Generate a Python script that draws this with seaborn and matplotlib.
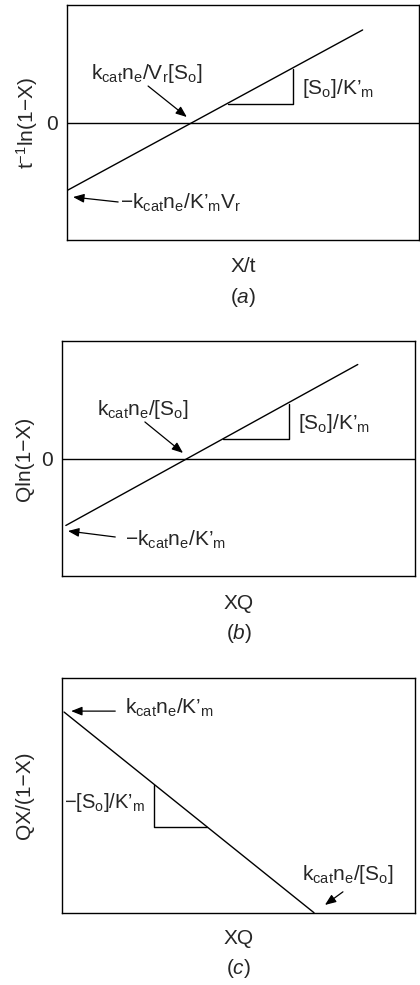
import matplotlib
matplotlib.use("Agg")
import matplotlib.pyplot as plt
import seaborn as sns
import pandas as pd

# Line data for each panel (data units: x 0..10, y -1..1 for a/b, 0..10 for c)
a_x = [0.0, 8.4]
a_y = [-0.58, 0.79]
a_tri_x = [4.58, 6.42, 6.42]
a_tri_y = [0.16, 0.16, 0.46]

b_x = [0.1, 8.37]
b_y = [-0.57, 0.80]
b_tri_x = [4.55, 6.42, 6.42]
b_tri_y = [0.166, 0.166, 0.464]

c_x = [0.05, 7.13]
c_y = [8.56, 0.0]
c_tri_x = [2.60, 2.60, 4.10]
c_tri_y = [5.45, 3.66, 3.66]

ylabels = [r"t$^{-1}$ln(1−X)", "Qln(1−X)", "QX/(1−X)"]
xlabels = ["X/t", "XQ", "XQ"]
captions = [r"($\mathit{a}$)", r"($\mathit{b}$)", r"($\mathit{c}$)"]

sns.set_theme(style="white")
plt.rcParams["font.family"] = ["Liberation Sans", "DejaVu Sans"]
plt.rcParams["mathtext.fontset"] = "custom"
plt.rcParams["mathtext.rm"] = "Liberation Sans"
plt.rcParams["mathtext.it"] = "Liberation Sans:italic"
plt.rcParams["mathtext.default"] = "rm"

FS = 15
W, H = 420, 985
fig = plt.figure(figsize=(W / 100, H / 100), dpi=100)


def px_axes(left, right, top, bottom):
    return fig.add_axes([left / W, 1 - bottom / H, (right - left) / W, (bottom - top) / H])


ax_a = px_axes(66.7, 419, 5.3, 240)
ax_b = px_axes(62.3, 415.3, 341, 576)
ax_c = px_axes(62.3, 415.3, 678.3, 912.7)

arrow = dict(arrowstyle="-|>,head_length=0.55,head_width=0.22", lw=0.9,
             color="black", shrinkA=0, shrinkB=0)


def base(ax, xs, ys, tx, ty, ylim, zero):
    sns.lineplot(data=pd.DataFrame({"x": xs, "y": ys}), x="x", y="y", ax=ax,
                 color="black", lw=1.0, sort=False, estimator=None)
    sns.lineplot(data=pd.DataFrame({"x": tx, "y": ty}), x="x", y="y", ax=ax,
                 color="black", lw=1.0, sort=False, estimator=None)
    if zero:
        ax.axhline(0, color="black", lw=1.0)
        ax.set_yticks([0])
        ax.set_yticklabels(["0"], fontsize=FS)
    else:
        ax.set_yticks([])
    ax.set_xticks([])
    ax.tick_params(axis="y", length=0, pad=6.5)
    ax.set_xlim(0, 10)
    ax.set_ylim(*ylim)
    for s in ax.spines.values():
        s.set_visible(True)
        s.set_color("black")
        s.set_linewidth(1.0)


for ax, xs, ys, tx, ty, ylim, zero in [
    (ax_a, a_x, a_y, a_tri_x, a_tri_y, (-1, 1), True),
    (ax_b, b_x, b_y, b_tri_x, b_tri_y, (-1, 1), True),
    (ax_c, c_x, c_y, c_tri_x, c_tri_y, (0, 10), False),
]:
    base(ax, xs, ys, tx, ty, ylim, zero)

# axis labels and captions
for ax, yl, xl, cap, ylx, xly, capy in [
    (ax_a, ylabels[0], xlabels[0], captions[0], -0.113, -0.115, -0.247),
    (ax_b, ylabels[1], xlabels[1], captions[1], -0.106, -0.115, -0.243),
    (ax_c, ylabels[2], xlabels[2], captions[2], -0.108, -0.108, -0.236),
]:
    ax.set_ylabel(yl, fontsize=FS, va="center")
    ax.yaxis.set_label_coords(ylx, 0.5)
    ax.set_xlabel(xl, fontsize=FS, va="center")
    ax.xaxis.set_label_coords(0.5, xly)
    ax.text(0.5, capy, cap, transform=ax.transAxes, ha="center", va="center",
            fontsize=FS)

# panel a annotations
ax_a.text(2.28, 0.42, r"$\mathrm{k_{cat}n_e/V_r[S_o]}$", ha="center", va="center", fontsize=FS)
ax_a.annotate("", xy=(3.41, 0.048), xytext=(2.31, 0.312), arrowprops=arrow)
ax_a.text(6.68, 0.295, r"$\mathrm{[S_o]/K’_m}$", ha="left", va="center", fontsize=FS)
ax_a.text(1.51, -0.685, r"$\mathrm{-k_{cat}n_e/K’_mV_r}$", ha="left", va="center", fontsize=FS)
ax_a.annotate("", xy=(0.18, -0.634), xytext=(1.46, -0.676), arrowprops=arrow)

# panel b annotations
ax_b.text(2.27, 0.413, r"$\mathrm{k_{cat}n_e/[S_o]}$", ha="center", va="center", fontsize=FS)
ax_b.annotate("", xy=(3.42, 0.047), xytext=(2.34, 0.311), arrowprops=arrow)
ax_b.text(6.68, 0.294, r"$\mathrm{[S_o]/K’_m}$", ha="left", va="center", fontsize=FS)
ax_b.text(1.78, -0.694, r"$\mathrm{-k_{cat}n_e/K’_m}$", ha="left", va="center", fontsize=FS)
ax_b.annotate("", xy=(0.16, -0.617), xytext=(1.50, -0.668), arrowprops=arrow)

# panel c annotations
ax_c.text(1.78, 8.73, r"$\mathrm{k_{cat}n_e/K’_m}$", ha="left", va="center", fontsize=FS)
ax_c.annotate("", xy=(0.25, 8.60), xytext=(1.50, 8.60), arrowprops=arrow)
ax_c.text(0.05, 4.72, r"$\mathrm{-[S_o]/K’_m}$", ha="left", va="center", fontsize=FS - 0.5)
ax_c.text(8.08, 1.61, r"$\mathrm{k_{cat}n_e/[S_o]}$", ha="center", va="center", fontsize=FS)
ax_c.annotate("", xy=(7.44, 0.33), xytext=(7.95, 0.89), arrowprops=arrow)

fig.savefig("out.png", dpi=100)
